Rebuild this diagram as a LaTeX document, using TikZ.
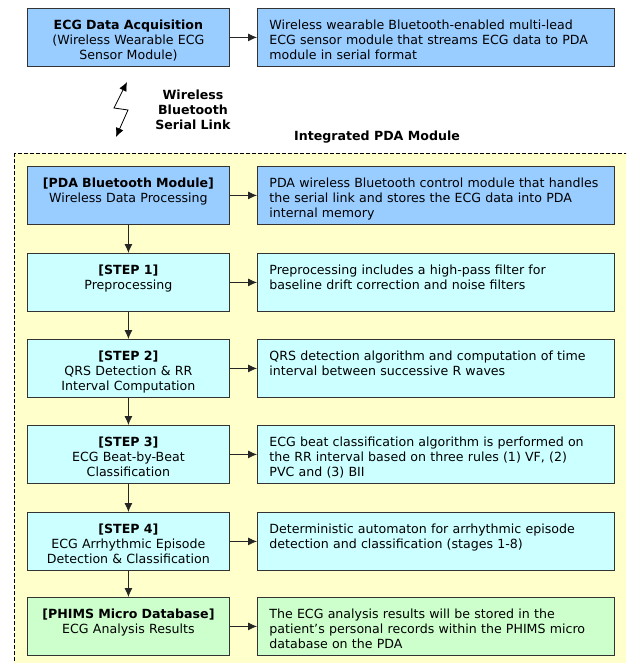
\documentclass[tikz,border=0pt]{standalone}
\usepackage{fontspec}
\setmainfont{DejaVu Sans}
\usetikzlibrary{arrows.meta}
\definecolor{acqblue}{HTML}{99CCFF}
\definecolor{stepcyan}{HTML}{CCFFFF}
\definecolor{dbgreen}{HTML}{CCFFCC}
\definecolor{pdayellow}{HTML}{FFFFCC}
\definecolor{boxline}{HTML}{333333}

\begin{document}
\begin{tikzpicture}[x=1pt,y=-1pt,font=\fontsize{12.6}{15}\selectfont,
  box/.style={draw=boxline,line width=0.8pt,anchor=north west,inner ysep=4pt,text height=17.5pt,text depth=32.5pt},
  lbox/.style={box,inner xsep=3pt,text width=196pt,align=center},
  rbox/.style={box,inner xsep=12pt,text width=333pt,align=left},
  arr/.style={-{Latex[length=9pt,width=8pt]},line width=0.8pt,draw=black!85}]
\clip (0,0) rectangle (626,663);
\fill[white] (0,0) rectangle (626,663);
\fill[pdayellow] (14,153) rectangle (640,680);
\draw[dash pattern=on 4pt off 2pt,line width=0.6pt] (14,153) rectangle (640,680);

\node[lbox,fill=acqblue] (acq) at (27,8) {\textbf{ECG Data Acquisition}\\(Wireless Wearable ECG\\Sensor Module)};
\node[rbox,fill=acqblue] (acqtxt) at (257,8) {Wireless wearable Bluetooth-enabled multi-lead\\ECG sensor module that streams ECG data to PDA\\module in serial format};

\coordinate (link1) at (127,82);
\coordinate (link2) at (116,137);
\draw[{Latex[length=9pt,width=8pt]}-{Latex[length=9pt,width=8pt]},line width=0.8pt] (link1) -- (114,108) -- (128,110) -- (link2);
\node[align=center] (linktxt) at (193,110) {\textbf{Wireless}\\\textbf{Bluetooth}\\\textbf{Serial Link}};
\node (pda) at (377,137) {\textbf{Integrated PDA Module}};

\node[lbox,fill=acqblue] (bt) at (27,166) {\textbf{[PDA Bluetooth Module]}\\Wireless Data Processing};
\node[rbox,fill=acqblue] (bttxt) at (257,166) {PDA wireless Bluetooth control module that handles\\the serial link and stores the ECG data into PDA\\internal memory};

\node[lbox,fill=stepcyan] (step1) at (27,253) {\textbf{[STEP 1]}\\Preprocessing};
\node[rbox,fill=stepcyan] (step1txt) at (257,253) {Preprocessing includes a high-pass filter for\\baseline drift correction and noise filters};

\node[lbox,fill=stepcyan] (step2) at (27,339) {\textbf{[STEP 2]}\\QRS Detection \& RR\\Interval Computation};
\node[rbox,fill=stepcyan] (step2txt) at (257,339) {QRS detection algorithm and computation of time\\interval between successive R waves};

\node[lbox,fill=stepcyan] (step3) at (27,425) {\textbf{[STEP 3]}\\ECG Beat-by-Beat\\Classification};
\node[rbox,fill=stepcyan] (step3txt) at (257,425) {ECG beat classification algorithm is performed on\\the RR interval based on three rules (1) VF, (2)\\PVC and (3) BII};

\node[lbox,fill=stepcyan] (step4) at (27,512) {\textbf{[STEP 4]}\\ECG Arrhythmic Episode\\Detection \& Classification};
\node[rbox,fill=stepcyan] (step4txt) at (257,512) {Deterministic automaton for arrhythmic episode\\detection and classification (stages 1-8)};

\node[lbox,fill=dbgreen] (db) at (27,597) {\textbf{[PHIMS Micro Database]}\\ECG Analysis Results};
\node[rbox,fill=dbgreen] (dbtxt) at (257,597) {The ECG analysis results will be stored in the\\patient’s personal records within the PHIMS micro\\database on the PDA};

\draw[arr] (acq) -- (acqtxt);
\draw[arr] (bt) -- (bttxt);
\draw[arr] (step1) -- (step1txt);
\draw[arr] (step2) -- (step2txt);
\draw[arr] (step3) -- (step3txt);
\draw[arr] (step4) -- (step4txt);
\draw[arr] (db) -- (dbtxt);
\draw[arr] (bt) -- (step1);
\draw[arr] (step1) -- (step2);
\draw[arr] (step2) -- (step3);
\draw[arr] (step3) -- (step4);
\draw[arr] (step4) -- (db);
\end{tikzpicture}
\end{document}
